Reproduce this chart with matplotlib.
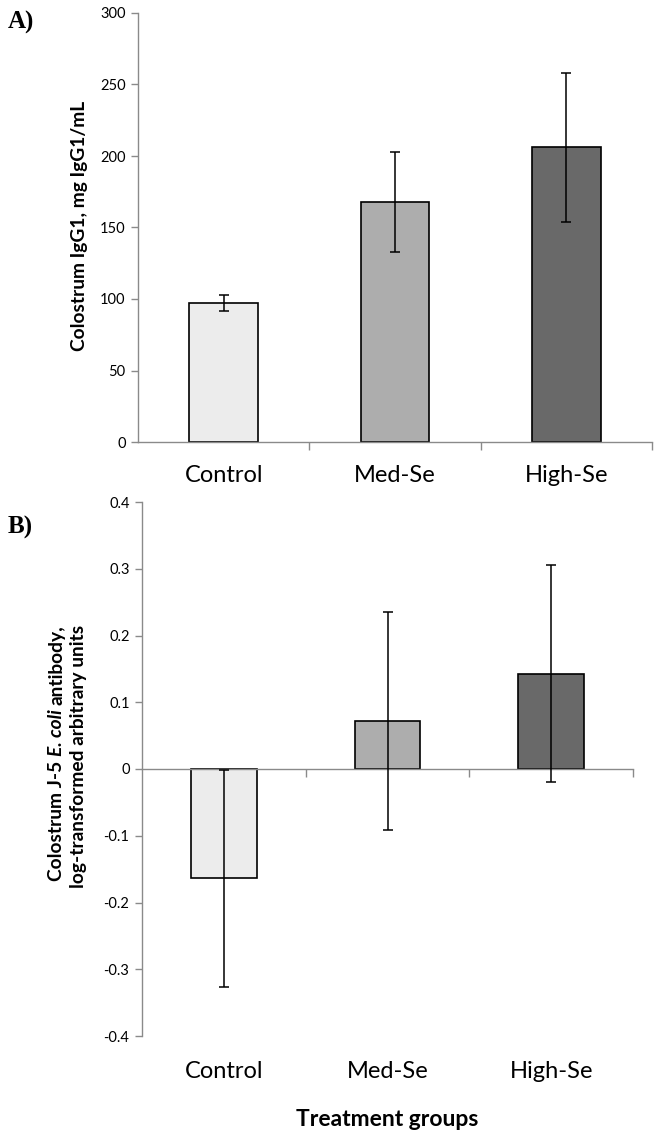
import matplotlib
matplotlib.use("Agg")
import matplotlib.pyplot as plt
from matplotlib.transforms import blended_transform_factory

categories = ["Control", "Med-Se", "High-Se"]
colors = ["#ececec", "#adadad", "#696969"]

igg1_mean = [97, 168, 206]
igg1_err = [5.5, 35, 52]
igg1_ticks = [0, 50, 100, 150, 200, 250, 300]

j5_mean = [-0.164, 0.072, 0.143]
j5_err = [0.163, 0.163, 0.163]
j5_ticks = [-0.4, -0.3, -0.2, -0.1, 0, 0.1, 0.2, 0.3, 0.4]
j5_ticklabels = ["-0.4", "-0.3", "-0.2", "-0.1", "0", "0.1", "0.2", "0.3", "0.4"]

FONT = "Lato"
plt.rcParams['font.family'] = [FONT, 'DejaVu Sans']
AXC = "#8a8a8a"
CAT_FS = 17
TICK_FS = 10.5
YLAB_FS = 13.8

W, H = 657, 1133
fig = plt.figure(figsize=(W / 100, H / 100), dpi=100)

def rect(l, t, r, b):
    return [l / W, 1 - b / H, (r - l) / W, (b - t) / H]

axA = fig.add_axes(rect(138, 13, 652, 442))
axB = fig.add_axes(rect(142, 502, 633, 1036))

x = [i + 0.5 for i in range(len(categories))]

def style(ax):
    for s in ["top", "right"]:
        ax.spines[s].set_visible(False)
    for s in ["left", "bottom"]:
        ax.spines[s].set_color(AXC)
        ax.spines[s].set_linewidth(1.0)
    ax.set_xlim(0, len(categories))
    ax.set_xticks([1, 2, 3])
    ax.set_xticklabels([])
    ax.tick_params(axis="x", direction="out", length=6, color=AXC, width=1.0)
    ax.tick_params(axis="y", direction="out", length=5, color=AXC, width=1.0,
                   labelsize=TICK_FS, pad=4)

# Panel A
axA.bar(x, igg1_mean, width=0.4, color=colors, edgecolor="black", linewidth=1.2, zorder=2)
axA.errorbar(x, igg1_mean, yerr=igg1_err, fmt="none", ecolor="black",
             elinewidth=1.1, capsize=3.5, capthick=1.1, zorder=3)
style(axA)
axA.set_ylim(0, 300)
axA.set_yticks(igg1_ticks)
fig.text(80 / W, 1 - 226 / H, "Colostrum IgG1, mg IgG1/mL", rotation=90,
         ha="center", va="center", fontsize=YLAB_FS, fontweight="bold")
trA = blended_transform_factory(axA.transData, axA.transAxes)
for xi, c in zip(x, categories):
    axA.text(xi, -34 / 429, c, transform=trA, ha="center", va="center", fontsize=CAT_FS)

# Panel B
axB.bar(x, j5_mean, width=0.4, color=colors, edgecolor="black", linewidth=1.2, zorder=2)
axB.errorbar(x, j5_mean, yerr=j5_err, fmt="none", ecolor="black",
             elinewidth=1.1, capsize=3.5, capthick=1.1, zorder=3)
style(axB)
axB.spines["bottom"].set_position(("data", 0))
axB.set_ylim(-0.4, 0.4)
axB.set_yticks(j5_ticks)
axB.set_yticklabels(j5_ticklabels)
trB = blended_transform_factory(axB.transData, axB.transAxes)
for xi, c in zip(x, categories):
    axB.text(xi, -36 / 534, c, transform=trB, ha="center", va="center", fontsize=CAT_FS)

# B y-label, first line assembled from pieces (bold + bold italic)
renderer = fig.canvas.get_renderer()
pieces = [("Colostrum J-5", "normal"), ("E. coli", "italic"), ("antibody,", "normal")]

def width_of(s, style_):
    t = fig.text(0, 0, s, fontsize=YLAB_FS, fontweight="bold", fontstyle=style_)
    w = t.get_window_extent(renderer).width
    t.remove()
    return w

space = width_of("a a", "normal") - width_of("aa", "normal")
widths = [width_of(s, st) for s, st in pieces]
total = sum(widths) + space * (len(pieces) - 1)
cx1, cy = 57, H - 753
ystart = cy - total / 2
for (s, st), w in zip(pieces, widths):
    fig.text(cx1 / W, ystart / H, s, rotation=90, rotation_mode="anchor",
             ha="left", va="center", fontsize=YLAB_FS, fontweight="bold", fontstyle=st)
    ystart += w + space

fig.text(79 / W, 1 - 756 / H, "log-transformed arbitrary units",
         rotation=90, ha="center", va="center", fontsize=YLAB_FS, fontweight="bold")

fig.text(387 / W, 1 - 1119 / H, "Treatment groups", ha="center", va="center",
         fontsize=16.5, fontweight="bold")

fig.text(8 / W, 1 - 22 / H, "A)", ha="left", va="center", fontsize=18,
         fontweight="bold", family="Liberation Serif")
fig.text(8 / W, 1 - 527 / H, "B)", ha="left", va="center", fontsize=18,
         fontweight="bold", family="Liberation Serif")

fig.savefig("out.png", dpi=100)
